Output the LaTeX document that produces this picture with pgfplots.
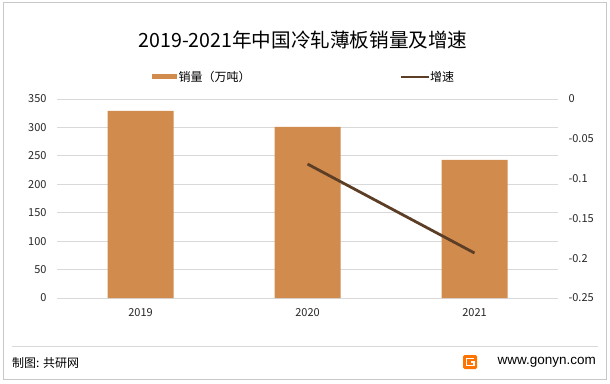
\documentclass[border=0pt]{standalone}
\usepackage{pgfplots}
\pgfplotsset{compat=1.18}
\usepackage{fontspec}
\setmainfont{Noto Sans CJK SC}
\newfontfamily\latinfont{Liberation Sans}
\definecolor{barc}{RGB}{209,139,77}
\definecolor{linec}{RGB}{92,62,38}
\definecolor{gridc}{RGB}{217,217,217}
\definecolor{framec}{RGB}{200,200,200}
\begin{document}
\begin{tikzpicture}[x=1pt,y=1pt]
\useasboundingbox (0,0) rectangle (610,383);
\draw[framec, line width=1pt] (3,4) rectangle (606,380);
\node[font=\fontsize{19.6}{22}\selectfont] at (303,343) {2019-2021年中国冷轧薄板销量及增速};
% legend
\fill[barc] (152,303.5) rectangle (177,308.5);
\node[anchor=west, inner sep=0pt, font=\fontsize{12}{14}\selectfont] at (178.5,306) {销量（万吨）};
\draw[linec, line width=2.8pt] (401,306) -- (429,306);
\node[anchor=west, inner sep=0pt, font=\fontsize{12}{14}\selectfont] at (430,306) {增速};
% footer
\draw[gridc, line width=0.8pt] (12,37) -- (598,37);
\node[anchor=west, inner sep=0pt, font=\fontsize{12}{14}\selectfont] at (12,20) {制图: 共研网};
\node[anchor=east, inner sep=0pt, font=\latinfont\fontsize{13.5}{15}\selectfont] at (596,21) {www.gonyn.com};
\fill[orange!90!red, rounded corners=1.5pt] (463,14) rectangle (477,28);
\draw[white, line width=1.6pt] (474,24.5) -- (466.5,24.5) -- (466.5,17.5) -- (474,17.5) -- (474,21) -- (470.5,21);
\begin{axis}[
  at={(57pt,85pt)}, anchor=south west,
  scale only axis, width=501pt, height=199pt,
  xmin=-0.5, xmax=2.5, ymin=0, ymax=350,
  xtick={0,1,2}, xticklabels={2019,2020,2021},
  ytick={0,50,...,350},
  ymajorgrids, grid style={gridc, line width=0.8pt},
  axis line style={draw=none}, major tick length=0pt,
  tick label style={font=\fontsize{11}{13}\selectfont, text=black!85},
  /pgf/number format/assume math mode=true,
  yticklabel style={xshift=-7pt},
  xticklabel style={yshift=-7pt},
  clip=false,
]
\addplot[ybar, bar width=66pt, fill=barc, draw=none] coordinates {(0,329) (1,301) (2,243)};
\end{axis}
\begin{axis}[
  at={(57pt,85pt)}, anchor=south west,
  scale only axis, width=501pt, height=199pt,
  xmin=-0.5, xmax=2.5, ymin=-0.25, ymax=0,
  axis y line*=right, axis x line=none,
  ytick={-0.25,-0.2,-0.15,-0.1,-0.05,0},
  yticklabels={-0.25,-0.2,-0.15,-0.1,-0.05,0},
  axis line style={draw=none}, major tick length=0pt,
  tick label style={font=\fontsize{11}{13}\selectfont, text=black!85},
  yticklabel style={anchor=west, xshift=7pt},
  clip=false,
]
\addplot[linec, line width=2.8pt, no marks] coordinates {(1,-0.0817) (2,-0.1935)};
\end{axis}
\end{tikzpicture}
\end{document}
